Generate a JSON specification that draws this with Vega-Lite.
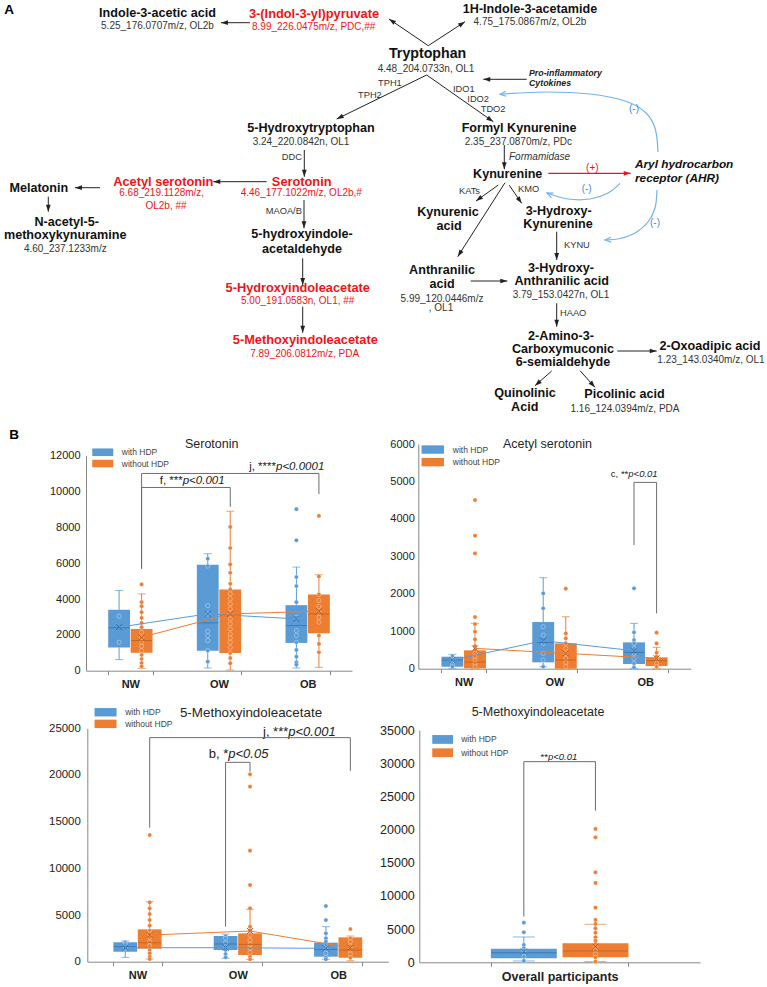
{
"$schema":"https://vega.github.io/schema/vega-lite/v6.json",
"width":767,"height":987,"autosize":"none","padding":0,"background":"white",
"config":{"view":{"stroke":null},"font":"Liberation Sans","axis":{"grid":false,"labelFont":"Liberation Sans"},"legend":{"labelFont":"Liberation Sans"}},
"resolve":{"scale":{"x":"independent","y":"independent","xOffset":"independent","color":"independent"}},
"datasets":{
"boxes":[
{"panel":"TL","group":"NW","status":"with HDP","lo":620,"q1":1300,"med":2400,"q3":3400,"hi":4480,"mean":2430},
{"panel":"TL","group":"NW","status":"without HDP","lo":130,"q1":1000,"med":1680,"q3":2330,"hi":4290,"mean":1866},
{"panel":"TL","group":"OW","status":"with HDP","lo":150,"q1":1120,"med":2670,"q3":5915,"hi":6530,"mean":3172},
{"panel":"TL","group":"OW","status":"without HDP","lo":40,"q1":990,"med":3100,"q3":4534,"hi":8900,"mean":3172},
{"panel":"TL","group":"OB","status":"with HDP","lo":150,"q1":1550,"med":2520,"q3":3657,"hi":5785,"mean":2892},
{"panel":"TL","group":"OB","status":"without HDP","lo":190,"q1":2090,"med":3170,"q3":4254,"hi":5355,"mean":3321},
{"panel":"TR","group":"NW","status":"with HDP","lo":0,"q1":53,"med":231,"q3":320,"hi":383,"mean":230},
{"panel":"TR","group":"NW","status":"without HDP","lo":0,"q1":10,"med":178,"q3":490,"hi":1210,"mean":543},
{"panel":"TR","group":"OW","status":"with HDP","lo":53,"q1":169,"med":700,"q3":1246,"hi":2430,"mean":748},
{"panel":"TR","group":"OW","status":"without HDP","lo":0,"q1":0,"med":231,"q3":676,"hi":1388,"mean":409},
{"panel":"TR","group":"OB","status":"with HDP","lo":0,"q1":125,"med":436,"q3":703,"hi":1210,"mean":480},
{"panel":"TR","group":"OB","status":"without HDP","lo":0,"q1":71,"med":214,"q3":303,"hi":570,"mean":276},
{"panel":"BL","group":"NW","status":"with HDP","lo":464,"q1":1071,"med":1607,"q3":2071,"hi":2214,"mean":1500},
{"panel":"BL","group":"NW","status":"without HDP","lo":286,"q1":1393,"med":2035,"q3":3464,"hi":6428,"mean":2857},
{"panel":"BL","group":"OW","status":"with HDP","lo":357,"q1":1250,"med":1900,"q3":2750,"hi":2950,"mean":1500},
{"panel":"BL","group":"OW","status":"without HDP","lo":250,"q1":714,"med":1857,"q3":3035,"hi":5607,"mean":3285},
{"panel":"BL","group":"OB","status":"with HDP","lo":250,"q1":536,"med":1321,"q3":2035,"hi":3750,"mean":1430},
{"panel":"BL","group":"OB","status":"without HDP","lo":100,"q1":428,"med":1250,"q3":2607,"hi":2750,"mean":1500},
{"panel":"BR","group":"Overall participants","status":"with HDP","lo":200,"q1":603,"med":1456,"q3":2059,"hi":3817,"mean":1607},
{"panel":"BR","group":"Overall participants","status":"without HDP","lo":100,"q1":753,"med":1707,"q3":2862,"hi":5725,"mean":2360}
],
"points":[
{"panel":"TL","group":"NW","status":"with HDP","value":3040},{"panel":"TL","group":"NW","status":"with HDP","value":1585},
{"panel":"TL","group":"NW","status":"without HDP","value":4814},{"panel":"TL","group":"NW","status":"without HDP","value":3825},{"panel":"TL","group":"NW","status":"without HDP","value":3600},{"panel":"TL","group":"NW","status":"without HDP","value":3265},{"panel":"TL","group":"NW","status":"without HDP","value":2948},{"panel":"TL","group":"NW","status":"without HDP","value":2668},{"panel":"TL","group":"NW","status":"without HDP","value":2426},{"panel":"TL","group":"NW","status":"without HDP","value":2146},{"panel":"TL","group":"NW","status":"without HDP","value":1866},{"panel":"TL","group":"NW","status":"without HDP","value":1586},{"panel":"TL","group":"NW","status":"without HDP","value":1362},{"panel":"TL","group":"NW","status":"without HDP","value":1120},{"panel":"TL","group":"NW","status":"without HDP","value":877},{"panel":"TL","group":"NW","status":"without HDP","value":653},{"panel":"TL","group":"NW","status":"without HDP","value":429},{"panel":"TL","group":"NW","status":"without HDP","value":243},
{"panel":"TL","group":"OW","status":"with HDP","value":6251},{"panel":"TL","group":"OW","status":"with HDP","value":5841},{"panel":"TL","group":"OW","status":"with HDP","value":3639},{"panel":"TL","group":"OW","status":"with HDP","value":3172},{"panel":"TL","group":"OW","status":"with HDP","value":2202},{"panel":"TL","group":"OW","status":"with HDP","value":1959},{"panel":"TL","group":"OW","status":"with HDP","value":1679},{"panel":"TL","group":"OW","status":"with HDP","value":1120},{"panel":"TL","group":"OW","status":"with HDP","value":504},
{"panel":"TL","group":"OW","status":"without HDP","value":8024},{"panel":"TL","group":"OW","status":"without HDP","value":6848},{"panel":"TL","group":"OW","status":"without HDP","value":5934},{"panel":"TL","group":"OW","status":"without HDP","value":5467},{"panel":"TL","group":"OW","status":"without HDP","value":4852},{"panel":"TL","group":"OW","status":"without HDP","value":4534},{"panel":"TL","group":"OW","status":"without HDP","value":4292},{"panel":"TL","group":"OW","status":"without HDP","value":4012},{"panel":"TL","group":"OW","status":"without HDP","value":3732},{"panel":"TL","group":"OW","status":"without HDP","value":3452},{"panel":"TL","group":"OW","status":"without HDP","value":3172},{"panel":"TL","group":"OW","status":"without HDP","value":2892},{"panel":"TL","group":"OW","status":"without HDP","value":2612},{"panel":"TL","group":"OW","status":"without HDP","value":2332},{"panel":"TL","group":"OW","status":"without HDP","value":2053},{"panel":"TL","group":"OW","status":"without HDP","value":1829},{"panel":"TL","group":"OW","status":"without HDP","value":1586},{"panel":"TL","group":"OW","status":"without HDP","value":1306},{"panel":"TL","group":"OW","status":"without HDP","value":989},{"panel":"TL","group":"OW","status":"without HDP","value":709},{"panel":"TL","group":"OW","status":"without HDP","value":411},
{"panel":"TL","group":"OB","status":"with HDP","value":9013},{"panel":"TL","group":"OB","status":"with HDP","value":7277},{"panel":"TL","group":"OB","status":"with HDP","value":5225},{"panel":"TL","group":"OB","status":"with HDP","value":4721},{"panel":"TL","group":"OB","status":"with HDP","value":3825},{"panel":"TL","group":"OB","status":"with HDP","value":2986},{"panel":"TL","group":"OB","status":"with HDP","value":2239},{"panel":"TL","group":"OB","status":"with HDP","value":1959},{"panel":"TL","group":"OB","status":"with HDP","value":1586},{"panel":"TL","group":"OB","status":"with HDP","value":1157},{"panel":"TL","group":"OB","status":"with HDP","value":784},{"panel":"TL","group":"OB","status":"with HDP","value":467},{"panel":"TL","group":"OB","status":"with HDP","value":336},
{"panel":"TL","group":"OB","status":"without HDP","value":8640},{"panel":"TL","group":"OB","status":"without HDP","value":5262},{"panel":"TL","group":"OB","status":"without HDP","value":4254},{"panel":"TL","group":"OB","status":"without HDP","value":3919},{"panel":"TL","group":"OB","status":"without HDP","value":3583},{"panel":"TL","group":"OB","status":"without HDP","value":3265},{"panel":"TL","group":"OB","status":"without HDP","value":2986},{"panel":"TL","group":"OB","status":"without HDP","value":2706},{"panel":"TL","group":"OB","status":"without HDP","value":1959},{"panel":"TL","group":"OB","status":"without HDP","value":1493},{"panel":"TL","group":"OB","status":"without HDP","value":1026},
{"panel":"TR","group":"NW","status":"with HDP","value":338},{"panel":"TR","group":"NW","status":"with HDP","value":231},{"panel":"TR","group":"NW","status":"with HDP","value":125},{"panel":"TR","group":"NW","status":"with HDP","value":53},
{"panel":"TR","group":"NW","status":"without HDP","value":4503},{"panel":"TR","group":"NW","status":"without HDP","value":3551},{"panel":"TR","group":"NW","status":"without HDP","value":3079},{"panel":"TR","group":"NW","status":"without HDP","value":1380},{"panel":"TR","group":"NW","status":"without HDP","value":1193},{"panel":"TR","group":"NW","status":"without HDP","value":988},{"panel":"TR","group":"NW","status":"without HDP","value":783},{"panel":"TR","group":"NW","status":"without HDP","value":605},{"panel":"TR","group":"NW","status":"without HDP","value":498},{"panel":"TR","group":"NW","status":"without HDP","value":409},{"panel":"TR","group":"NW","status":"without HDP","value":320},{"panel":"TR","group":"NW","status":"without HDP","value":231},{"panel":"TR","group":"NW","status":"without HDP","value":142},{"panel":"TR","group":"NW","status":"without HDP","value":53},
{"panel":"TR","group":"OW","status":"with HDP","value":2011},{"panel":"TR","group":"OW","status":"with HDP","value":1611},{"panel":"TR","group":"OW","status":"with HDP","value":1121},{"panel":"TR","group":"OW","status":"with HDP","value":899},{"panel":"TR","group":"OW","status":"with HDP","value":676},{"panel":"TR","group":"OW","status":"with HDP","value":409},{"panel":"TR","group":"OW","status":"with HDP","value":231},{"panel":"TR","group":"OW","status":"with HDP","value":53},
{"panel":"TR","group":"OW","status":"without HDP","value":2136},{"panel":"TR","group":"OW","status":"without HDP","value":943},{"panel":"TR","group":"OW","status":"without HDP","value":810},{"panel":"TR","group":"OW","status":"without HDP","value":676},{"panel":"TR","group":"OW","status":"without HDP","value":543},{"panel":"TR","group":"OW","status":"without HDP","value":409},{"panel":"TR","group":"OW","status":"without HDP","value":276},{"panel":"TR","group":"OW","status":"without HDP","value":160},{"panel":"TR","group":"OW","status":"without HDP","value":53},
{"panel":"TR","group":"OB","status":"with HDP","value":2145},{"panel":"TR","group":"OB","status":"with HDP","value":970},{"panel":"TR","group":"OB","status":"with HDP","value":765},{"panel":"TR","group":"OB","status":"with HDP","value":676},{"panel":"TR","group":"OB","status":"with HDP","value":543},{"panel":"TR","group":"OB","status":"with HDP","value":409},{"panel":"TR","group":"OB","status":"with HDP","value":276},{"panel":"TR","group":"OB","status":"with HDP","value":142},{"panel":"TR","group":"OB","status":"with HDP","value":36},
{"panel":"TR","group":"OB","status":"without HDP","value":961},{"panel":"TR","group":"OB","status":"without HDP","value":676},{"panel":"TR","group":"OB","status":"without HDP","value":427},{"panel":"TR","group":"OB","status":"without HDP","value":320},{"panel":"TR","group":"OB","status":"without HDP","value":231},{"panel":"TR","group":"OB","status":"without HDP","value":142},{"panel":"TR","group":"OB","status":"without HDP","value":53},
{"panel":"BL","group":"NW","status":"with HDP","value":2071},{"panel":"BL","group":"NW","status":"with HDP","value":1857},{"panel":"BL","group":"NW","status":"with HDP","value":1428},
{"panel":"BL","group":"NW","status":"without HDP","value":13570},{"panel":"BL","group":"NW","status":"without HDP","value":6357},{"panel":"BL","group":"NW","status":"without HDP","value":5714},{"panel":"BL","group":"NW","status":"without HDP","value":5107},{"panel":"BL","group":"NW","status":"without HDP","value":4464},{"panel":"BL","group":"NW","status":"without HDP","value":3857},{"panel":"BL","group":"NW","status":"without HDP","value":3321},{"panel":"BL","group":"NW","status":"without HDP","value":2964},{"panel":"BL","group":"NW","status":"without HDP","value":2607},{"panel":"BL","group":"NW","status":"without HDP","value":2143},{"panel":"BL","group":"NW","status":"without HDP","value":1678},{"panel":"BL","group":"NW","status":"without HDP","value":1250},{"panel":"BL","group":"NW","status":"without HDP","value":893},{"panel":"BL","group":"NW","status":"without HDP","value":536},{"panel":"BL","group":"NW","status":"without HDP","value":286},
{"panel":"BL","group":"OW","status":"with HDP","value":2750},{"panel":"BL","group":"OW","status":"with HDP","value":2500},{"panel":"BL","group":"OW","status":"with HDP","value":2035},{"panel":"BL","group":"OW","status":"with HDP","value":1607},{"panel":"BL","group":"OW","status":"with HDP","value":1250},{"panel":"BL","group":"OW","status":"with HDP","value":821},{"panel":"BL","group":"OW","status":"with HDP","value":464},
{"panel":"BL","group":"OW","status":"without HDP","value":20070},{"panel":"BL","group":"OW","status":"without HDP","value":18750},{"panel":"BL","group":"OW","status":"without HDP","value":11890},{"panel":"BL","group":"OW","status":"without HDP","value":8214},{"panel":"BL","group":"OW","status":"without HDP","value":5714},{"panel":"BL","group":"OW","status":"without HDP","value":3750},{"panel":"BL","group":"OW","status":"without HDP","value":3321},{"panel":"BL","group":"OW","status":"without HDP","value":2857},{"panel":"BL","group":"OW","status":"without HDP","value":2321},{"panel":"BL","group":"OW","status":"without HDP","value":1857},{"panel":"BL","group":"OW","status":"without HDP","value":1428},{"panel":"BL","group":"OW","status":"without HDP","value":1000},{"panel":"BL","group":"OW","status":"without HDP","value":536},{"panel":"BL","group":"OW","status":"without HDP","value":250},
{"panel":"BL","group":"OB","status":"with HDP","value":5964},{"panel":"BL","group":"OB","status":"with HDP","value":4464},{"panel":"BL","group":"OB","status":"with HDP","value":3035},{"panel":"BL","group":"OB","status":"with HDP","value":2500},{"panel":"BL","group":"OB","status":"with HDP","value":2143},{"panel":"BL","group":"OB","status":"with HDP","value":1786},{"panel":"BL","group":"OB","status":"with HDP","value":1321},{"panel":"BL","group":"OB","status":"with HDP","value":893},{"panel":"BL","group":"OB","status":"with HDP","value":464},{"panel":"BL","group":"OB","status":"with HDP","value":250},
{"panel":"BL","group":"OB","status":"without HDP","value":3500},{"panel":"BL","group":"OB","status":"without HDP","value":2500},{"panel":"BL","group":"OB","status":"without HDP","value":2143},{"panel":"BL","group":"OB","status":"without HDP","value":1678},{"panel":"BL","group":"OB","status":"without HDP","value":1250},{"panel":"BL","group":"OB","status":"without HDP","value":821},{"panel":"BL","group":"OB","status":"without HDP","value":428},
{"panel":"BR","group":"Overall participants","status":"with HDP","value":5976},{"panel":"BR","group":"Overall participants","status":"with HDP","value":4520},{"panel":"BR","group":"Overall participants","status":"with HDP","value":2611},{"panel":"BR","group":"Overall participants","status":"with HDP","value":2109},{"panel":"BR","group":"Overall participants","status":"with HDP","value":1758},{"panel":"BR","group":"Overall participants","status":"with HDP","value":1356},{"panel":"BR","group":"Overall participants","status":"with HDP","value":854},{"panel":"BR","group":"Overall participants","status":"with HDP","value":200},
{"panel":"BR","group":"Overall participants","status":"without HDP","value":20088},{"panel":"BR","group":"Overall participants","status":"without HDP","value":18832},{"panel":"BR","group":"Overall participants","status":"without HDP","value":13559},{"panel":"BR","group":"Overall participants","status":"without HDP","value":11952},{"panel":"BR","group":"Overall participants","status":"without HDP","value":8236},{"panel":"BR","group":"Overall participants","status":"without HDP","value":6378},{"panel":"BR","group":"Overall participants","status":"without HDP","value":5775},{"panel":"BR","group":"Overall participants","status":"without HDP","value":5122},{"panel":"BR","group":"Overall participants","status":"without HDP","value":4470},{"panel":"BR","group":"Overall participants","status":"without HDP","value":3766},{"panel":"BR","group":"Overall participants","status":"without HDP","value":3264},{"panel":"BR","group":"Overall participants","status":"without HDP","value":2762},{"panel":"BR","group":"Overall participants","status":"without HDP","value":2260},{"panel":"BR","group":"Overall participants","status":"without HDP","value":1758},{"panel":"BR","group":"Overall participants","status":"without HDP","value":1256},{"panel":"BR","group":"Overall participants","status":"without HDP","value":753},{"panel":"BR","group":"Overall participants","status":"without HDP","value":100}
],
"brackets":[
{"panel":"TL","id":"f","step":1,"group":"NW","status":"without HDP","value":5691},{"panel":"TL","id":"f","step":2,"group":"NW","status":"without HDP","value":10226},{"panel":"TL","id":"f","step":3,"group":"OW","status":"without HDP","value":10226},{"panel":"TL","id":"f","step":4,"group":"OW","status":"without HDP","value":9143},
{"panel":"TL","id":"j","step":1,"group":"NW","status":"without HDP","value":5691},{"panel":"TL","id":"j","step":2,"group":"NW","status":"without HDP","value":11009},{"panel":"TL","id":"j","step":3,"group":"OB","status":"without HDP","value":11009},{"panel":"TL","id":"j","step":4,"group":"OB","status":"without HDP","value":9852},
{"panel":"TR","id":"c","step":1,"group":"OB","status":"with HDP","value":3302},{"panel":"TR","id":"c","step":2,"group":"OB","status":"with HDP","value":4975},{"panel":"TR","id":"c","step":3,"group":"OB","status":"without HDP","value":4975},{"panel":"TR","id":"c","step":4,"group":"OB","status":"without HDP","value":1477},
{"panel":"BL","id":"j","step":1,"group":"NW","status":"without HDP","value":14357},{"panel":"BL","id":"j","step":2,"group":"NW","status":"without HDP","value":24000},{"panel":"BL","id":"j","step":3,"group":"OB","status":"without HDP","value":24000},{"panel":"BL","id":"j","step":4,"group":"OB","status":"without HDP","value":20430},
{"panel":"BL","id":"b","step":1,"group":"OW","status":"with HDP","value":3750},{"panel":"BL","id":"b","step":2,"group":"OW","status":"with HDP","value":21355},{"panel":"BL","id":"b","step":3,"group":"OW","status":"without HDP","value":21355},{"panel":"BL","id":"b","step":4,"group":"OW","status":"without HDP","value":20355},
{"panel":"BR","id":"o","step":1,"group":"Overall participants","status":"with HDP","value":6880},{"panel":"BR","id":"o","step":2,"group":"Overall participants","status":"with HDP","value":30232},{"panel":"BR","id":"o","step":3,"group":"Overall participants","status":"without HDP","value":30232},{"panel":"BR","id":"o","step":4,"group":"Overall participants","status":"without HDP","value":22850}
],
"nodes_bold":[
{"text":"Indole-3-acetic acid","x":157.5,"y":13.3},{"text":"1H-Indole-3-acetamide","x":530,"y":8.5},{"text":"5-Hydroxytryptophan","x":311,"y":128.3},{"text":"Formyl Kynurenine","x":519,"y":128.3},{"text":"Kynurenine","x":507.7,"y":174.3},{"text":"Melatonin","x":38.8,"y":187.7},{"text":"N-acetyl-5-","x":66.7,"y":221.7},{"text":"methoxykynuramine","x":65.2,"y":235},{"text":"5-hydroxyindole-","x":302,"y":234.3},{"text":"acetaldehyde","x":302,"y":249.3},{"text":"Kynurenic","x":448,"y":211.7},{"text":"acid","x":449,"y":226},{"text":"3-Hydroxy-","x":558.7,"y":210.7},{"text":"Kynurenine","x":558,"y":224},{"text":"Anthranilic","x":442,"y":270},{"text":"acid","x":442,"y":284},{"text":"3-Hydroxy-","x":561,"y":268},{"text":"Anthranilic acid","x":561.7,"y":281},{"text":"2-Amino-3-","x":561,"y":335.7},{"text":"Carboxymuconic","x":563,"y":349},{"text":"6-semialdehyde","x":563,"y":362.3},{"text":"2-Oxoadipic acid","x":710,"y":345.7},{"text":"Quinolinic","x":525,"y":393.3},{"text":"Acid","x":524.7,"y":406.7},{"text":"Picolinic acid","x":624.5,"y":394.3}
],
"node_main":[{"text":"Tryptophan","x":427.6,"y":54.3}],
"nodes_red":[{"text":"3-(Indol-3-yl)pyruvate","x":314,"y":14.3},{"text":"Serotonin","x":301.7,"y":181.7},{"text":"Acetyl serotonin","x":163.3,"y":181.7},{"text":"5-Hydroxyindoleacetate","x":297.7,"y":288.3},{"text":"5-Methoxyindoleacetate","x":305.3,"y":340}],
"subs":[{"text":"5.25_176.0707m/z,  OL2b","x":157.5,"y":25.7},{"text":"4.75_175.0867m/z,  OL2b","x":530,"y":21.7},{"text":"4.48_204.0733n,  OL1","x":426,"y":69.3},{"text":"2.35_237.0870m/z,  PDc","x":518.4,"y":141.7},{"text":"3.24_220.0842n,  OL1","x":301,"y":141.7},{"text":"4.60_237.1233m/z","x":65.3,"y":249.3},{"text":"5.99_120.0446m/z","x":442,"y":299},{"text":", OL1","x":441,"y":308.3},{"text":"3.79_153.0427n,  OL1","x":561,"y":295},{"text":"1.23_143.0340m/z,  OL1","x":711,"y":360},{"text":"1.16_124.0394m/z,  PDA","x":625,"y":409}],
"subs_red":[{"text":"8.99_226.0475m/z,  PDC,##","x":313.7,"y":26.7},{"text":"4.46_177.1022m/z,  OL2b,#","x":301.3,"y":193.3},{"text":"6.68_219.1128m/z,","x":161.7,"y":193.3},{"text":"OL2b, ##","x":166,"y":206},{"text":"5.00_191.0583n,  OL1, ##","x":297.7,"y":301},{"text":"7.89_206.0812m/z,  PDA","x":304.7,"y":354}],
"enzymes":[{"text":"TPH1","x":378,"y":83},{"text":"TPH2","x":358,"y":95},{"text":"IDO1","x":453,"y":89.3},{"text":"IDO2","x":467.3,"y":99.3},{"text":"TDO2","x":480.7,"y":109.3},{"text":"DDC","x":281.7,"y":156.7},{"text":"MAOA/B","x":265.7,"y":210.7},{"text":"KATs","x":459,"y":191},{"text":"KMO","x":518,"y":189.3},{"text":"KYNU","x":564,"y":245},{"text":"HAAO","x":560,"y":313.3}],
"italic_enz":[{"text":"Formamidase","x":509,"y":156.7}],
"bi_small":[{"text":"Pro-inflammatory","x":529,"y":72.7},{"text":"Cytokines","x":529,"y":83.3}],
"bi_big":[{"text":"Aryl hydrocarbon","x":635,"y":164.3},{"text":"receptor (AHR)","x":635,"y":178.3}],
"sign_red":[{"text":"(+)","x":592.3,"y":167.7}],
"sign_blue":[{"text":"(-)","x":586.7,"y":189.3},{"text":"(-)","x":634,"y":109.3},{"text":"(-)","x":655,"y":223.3}],
"letters":[{"text":"A","x":9,"y":10},{"text":"B","x":14,"y":435}],
"titles":[{"text":"Serotonin","x":211.7,"y":444},{"text":"Acetyl serotonin","x":547.5,"y":444},{"text":"5-Methoxyindoleacetate","x":538,"y":711.7}],
"title_bl":[{"text":"5-Methoxyindoleacetate","x":251,"y":712.7}],
"sig_tl_reg":[{"text":"f, ***","x":182.7,"y":480.7},{"text":"j, ****","x":276,"y":466.7}],
"sig_tl_it":[{"text":"p<0.001","x":182.7,"y":480.7},{"text":"p<0.0001","x":276,"y":466.7}],
"sig_bl_reg":[{"text":"j, ***","x":288.3,"y":731.7},{"text":"b, *","x":228.3,"y":754.3}],
"sig_bl_it":[{"text":"p<0.001","x":288.3,"y":731.7},{"text":"p<0.05","x":228.3,"y":754.3}],
"sig_sm_reg":[{"text":"c, **","x":628.3,"y":474.3},{"text":"**","x":548,"y":756.7}],
"sig_sm_it":[{"text":"p<0.01","x":628.3,"y":474.3},{"text":"p<0.01","x":548,"y":756.7}],
"arrows":[
{"x":250,"y":22.7,"x2":221,"y2":22.7},{"x":428.3,"y":45.7,"x2":389,"y2":19},{"x":428.3,"y":45.7,"x2":465,"y2":21.7},{"x":426.7,"y":75,"x2":336.7,"y2":119},{"x":426.7,"y":75,"x2":493.3,"y2":121.7},{"x":526.7,"y":79.3,"x2":483.3,"y2":79.3},{"x":504.3,"y":145,"x2":504.3,"y2":169.3},{"x":498.3,"y":185,"x2":476,"y2":201},{"x":509.3,"y":185.3,"x2":521.7,"y2":203.3},{"x":505,"y":182.7,"x2":457.7,"y2":256.7},{"x":556.7,"y":231.7,"x2":556.7,"y2":260},{"x":470.7,"y":281,"x2":507.3,"y2":281},{"x":556.7,"y":303.3,"x2":556.7,"y2":326.7},{"x":617.3,"y":351,"x2":656.7,"y2":351},{"x":551.7,"y":371,"x2":535,"y2":385.7},{"x":580,"y":370.7,"x2":595,"y2":387.3},{"x":304.3,"y":150,"x2":304.3,"y2":176.7},{"x":266.7,"y":181.7,"x2":213.3,"y2":181.7},{"x":100,"y":187.7,"x2":75,"y2":187.7},{"x":48.3,"y":196.7,"x2":48.3,"y2":211.7},{"x":304,"y":200,"x2":304,"y2":228.3},{"x":302.7,"y":258.3,"x2":302.7,"y2":285},{"x":302.7,"y":306.7,"x2":302.7,"y2":332.7}
],
"arrow_red":[{"x":548.3,"y":173.3,"x2":630.7,"y2":173.3}],
"curves":[
{"id":"c1","step":1,"x":658,"y":152},{"id":"c1","step":2,"x":655,"y":128},{"id":"c1","step":3,"x":645,"y":112},{"id":"c1","step":4,"x":625,"y":101},{"id":"c1","step":5,"x":590,"y":94},{"id":"c1","step":6,"x":545,"y":92},{"id":"c1","step":7,"x":500,"y":94.3},
{"id":"c2","step":1,"x":620,"y":183.3},{"id":"c2","step":2,"x":608,"y":193},{"id":"c2","step":3,"x":590,"y":199},{"id":"c2","step":4,"x":568,"y":199},{"id":"c2","step":5,"x":547,"y":193},
{"id":"c3","step":1,"x":657,"y":190},{"id":"c3","step":2,"x":655,"y":208},{"id":"c3","step":3,"x":648,"y":222},{"id":"c3","step":4,"x":635,"y":233},{"id":"c3","step":5,"x":620,"y":238.5},{"id":"c3","step":6,"x":605,"y":240}
],
"curveheads":[{"x":515,"y":93,"x2":500,"y2":94.3},{"x":556,"y":197,"x2":547,"y2":193},{"x":615,"y":239.5,"x2":605,"y2":240}]
},
"layer":[
{"layer":[
{"data":{"name":"arrows"},"mark":{"type":"rule","color":"#222","strokeWidth":1},"encoding":{"x":{"field":"x","type":"quantitative","scale":{"domain":[0,767],"range":[0,767],"nice":false,"zero":false},"axis":null},"y":{"field":"y","type":"quantitative","scale":{"domain":[0,987],"range":[0,987],"nice":false,"zero":false},"axis":null},"x2":{"field":"x2"},"y2":{"field":"y2"}}},
{"data":{"name":"arrows"},"transform":[{"calculate":"atan2(datum.x2-datum.x, datum.y-datum.y2)*180/PI","as":"ang"}],"mark":{"type":"point","shape":"M0,0L-0.75,2.2L0.75,2.2Z","filled":true,"color":"#222","size":40,"opacity":1},"encoding":{"x":{"field":"x2","type":"quantitative","axis":null},"y":{"field":"y2","type":"quantitative","axis":null},"angle":{"field":"ang","type":"quantitative","scale":null}}},
{"data":{"name":"arrow_red"},"mark":{"type":"rule","color":"#e8161b","strokeWidth":1.3},"encoding":{"x":{"field":"x","type":"quantitative","axis":null},"y":{"field":"y","type":"quantitative","axis":null},"x2":{"field":"x2"},"y2":{"field":"y2"}}},
{"data":{"name":"arrow_red"},"transform":[{"calculate":"atan2(datum.x2-datum.x, datum.y-datum.y2)*180/PI","as":"ang"}],"mark":{"type":"point","shape":"M0,0L-0.75,2.2L0.75,2.2Z","filled":true,"color":"#e8161b","size":40,"opacity":1},"encoding":{"x":{"field":"x2","type":"quantitative","axis":null},"y":{"field":"y2","type":"quantitative","axis":null},"angle":{"field":"ang","type":"quantitative","scale":null}}},
{"data":{"name":"curves"},"mark":{"type":"line","interpolate":"cardinal","color":"#74b3ea","strokeWidth":1.2},"encoding":{"x":{"field":"x","type":"quantitative","axis":null},"y":{"field":"y","type":"quantitative","axis":null},"detail":{"field":"id"},"order":{"field":"step","type":"quantitative"}}},
{"data":{"name":"curveheads"},"transform":[{"calculate":"atan2(datum.x2-datum.x, datum.y-datum.y2)*180/PI","as":"ang"}],"mark":{"type":"point","shape":"M-0.9,2.2L0,0L0.9,2.2","filled":false,"color":"#74b3ea","strokeWidth":1.2,"size":30,"opacity":1},"encoding":{"x":{"field":"x2","type":"quantitative","axis":null},"y":{"field":"y2","type":"quantitative","axis":null},"angle":{"field":"ang","type":"quantitative","scale":null}}},
{"data":{"name":"nodes_bold"},"mark":{"type":"text","fontSize":12.6,"fontWeight":"bold","color":"#111","align":"center","baseline":"middle"},"encoding":{"x":{"field":"x","type":"quantitative","axis":null},"y":{"field":"y","type":"quantitative","axis":null},"text":{"field":"text"}}},
{"data":{"name":"node_main"},"mark":{"type":"text","fontSize":14.2,"fontWeight":"bold","color":"#111","align":"center","baseline":"middle"},"encoding":{"x":{"field":"x","type":"quantitative","axis":null},"y":{"field":"y","type":"quantitative","axis":null},"text":{"field":"text"}}},
{"data":{"name":"nodes_red"},"mark":{"type":"text","fontSize":12.8,"fontWeight":"bold","color":"#f01414","align":"center","baseline":"middle"},"encoding":{"x":{"field":"x","type":"quantitative","axis":null},"y":{"field":"y","type":"quantitative","axis":null},"text":{"field":"text"}}},
{"data":{"name":"subs"},"mark":{"type":"text","fontSize":10,"color":"#333","align":"center","baseline":"middle"},"encoding":{"x":{"field":"x","type":"quantitative","axis":null},"y":{"field":"y","type":"quantitative","axis":null},"text":{"field":"text"}}},
{"data":{"name":"subs_red"},"mark":{"type":"text","fontSize":10,"color":"#f01414","align":"center","baseline":"middle"},"encoding":{"x":{"field":"x","type":"quantitative","axis":null},"y":{"field":"y","type":"quantitative","axis":null},"text":{"field":"text"}}},
{"data":{"name":"enzymes"},"mark":{"type":"text","fontSize":9.3,"color":"#333","align":"left","baseline":"middle"},"encoding":{"x":{"field":"x","type":"quantitative","axis":null},"y":{"field":"y","type":"quantitative","axis":null},"text":{"field":"text"}}},
{"data":{"name":"italic_enz"},"mark":{"type":"text","fontSize":10,"fontStyle":"italic","color":"#333","align":"left","baseline":"middle"},"encoding":{"x":{"field":"x","type":"quantitative","axis":null},"y":{"field":"y","type":"quantitative","axis":null},"text":{"field":"text"}}},
{"data":{"name":"bi_small"},"mark":{"type":"text","fontSize":8.8,"fontStyle":"italic","fontWeight":"bold","color":"#222","align":"left","baseline":"middle"},"encoding":{"x":{"field":"x","type":"quantitative","axis":null},"y":{"field":"y","type":"quantitative","axis":null},"text":{"field":"text"}}},
{"data":{"name":"bi_big"},"mark":{"type":"text","fontSize":11.8,"fontStyle":"italic","fontWeight":"bold","color":"#111","align":"left","baseline":"middle"},"encoding":{"x":{"field":"x","type":"quantitative","axis":null},"y":{"field":"y","type":"quantitative","axis":null},"text":{"field":"text"}}},
{"data":{"name":"sign_red"},"mark":{"type":"text","fontSize":10,"color":"#e8161b","align":"center","baseline":"middle"},"encoding":{"x":{"field":"x","type":"quantitative","axis":null},"y":{"field":"y","type":"quantitative","axis":null},"text":{"field":"text"}}},
{"data":{"name":"sign_blue"},"mark":{"type":"text","fontSize":10,"color":"#3d8fd6","align":"center","baseline":"middle"},"encoding":{"x":{"field":"x","type":"quantitative","axis":null},"y":{"field":"y","type":"quantitative","axis":null},"text":{"field":"text"}}},
{"data":{"name":"letters"},"mark":{"type":"text","fontSize":13.5,"fontWeight":"bold","color":"#000","align":"center","baseline":"middle"},"encoding":{"x":{"field":"x","type":"quantitative","axis":null},"y":{"field":"y","type":"quantitative","axis":null},"text":{"field":"text"}}},
{"data":{"name":"titles"},"mark":{"type":"text","fontSize":12.5,"color":"#262626","align":"center","baseline":"middle"},"encoding":{"x":{"field":"x","type":"quantitative","axis":null},"y":{"field":"y","type":"quantitative","axis":null},"text":{"field":"text"}}},
{"data":{"name":"title_bl"},"mark":{"type":"text","fontSize":13.4,"color":"#262626","align":"center","baseline":"middle"},"encoding":{"x":{"field":"x","type":"quantitative","axis":null},"y":{"field":"y","type":"quantitative","axis":null},"text":{"field":"text"}}},
{"data":{"name":"sig_tl_reg"},"mark":{"type":"text","fontSize":11.5,"color":"#222","align":"right","baseline":"middle"},"encoding":{"x":{"field":"x","type":"quantitative","axis":null},"y":{"field":"y","type":"quantitative","axis":null},"text":{"field":"text"}}},
{"data":{"name":"sig_tl_it"},"mark":{"type":"text","fontSize":11.5,"fontStyle":"italic","color":"#222","align":"left","baseline":"middle"},"encoding":{"x":{"field":"x","type":"quantitative","axis":null},"y":{"field":"y","type":"quantitative","axis":null},"text":{"field":"text"}}},
{"data":{"name":"sig_bl_reg"},"mark":{"type":"text","fontSize":13,"color":"#222","align":"right","baseline":"middle"},"encoding":{"x":{"field":"x","type":"quantitative","axis":null},"y":{"field":"y","type":"quantitative","axis":null},"text":{"field":"text"}}},
{"data":{"name":"sig_bl_it"},"mark":{"type":"text","fontSize":13,"fontStyle":"italic","color":"#222","align":"left","baseline":"middle"},"encoding":{"x":{"field":"x","type":"quantitative","axis":null},"y":{"field":"y","type":"quantitative","axis":null},"text":{"field":"text"}}},
{"data":{"name":"sig_sm_reg"},"mark":{"type":"text","fontSize":9.5,"color":"#222","align":"right","baseline":"middle"},"encoding":{"x":{"field":"x","type":"quantitative","axis":null},"y":{"field":"y","type":"quantitative","axis":null},"text":{"field":"text"}}},
{"data":{"name":"sig_sm_it"},"mark":{"type":"text","fontSize":9.5,"fontStyle":"italic","color":"#222","align":"left","baseline":"middle"},"encoding":{"x":{"field":"x","type":"quantitative","axis":null},"y":{"field":"y","type":"quantitative","axis":null},"text":{"field":"text"}}}
]},
{"layer":[
{"data":{"name":"boxes"},"transform":[{"filter":"datum.panel==='TL'"}],"mark":{"type":"bar"},"encoding":{
"x":{"field":"group","type":"nominal","sort":["NW","OW","OB"],"scale":{"domain":["NW","OW","OB"],"range":[86,352],"paddingInner":0.5,"paddingOuter":0.25},"axis":{"orient":"bottom","offset":-316.3,"title":null,"labelAngle":0,"labelFontWeight":"bold","labelFontSize":11,"labelColor":"#222","labelPadding":4,"tickBand":"extent","tickSize":4,"tickColor":"#888","domainColor":"#888"}},
"xOffset":{"field":"status","type":"nominal","scale":{"domain":["with HDP","without HDP"],"paddingInner":0.03,"paddingOuter":0}},
"y":{"field":"q1","type":"quantitative","scale":{"domain":[0,12000],"range":[670.7,455.7],"nice":false},"axis":{"orient":"left","offset":-86,"title":null,"values":[0,2000,4000,6000,8000,10000,12000],"format":"d","labelFontSize":11,"labelColor":"#222","tickSize":0,"labelPadding":6,"domainColor":"#888"}},
"y2":{"field":"q3"},
"color":{"field":"status","type":"nominal","scale":{"domain":["with HDP","without HDP"],"range":["#5b9bd5","#ed7d31"]},"legend":{"orient":"none","legendX":98.5,"legendY":448,"title":null,"symbolType":"M-5.25,-1.9H5.25V1.9H-5.25Z","symbolSize":16,"symbolStrokeWidth":0,"labelFontSize":8.5,"labelColor":"#444","labelOffset":14.8,"rowPadding":2.3,"padding":0}}}},
{"data":{"name":"boxes"},"transform":[{"filter":"datum.panel==='TL'"}],"mark":{"type":"rule","strokeWidth":1},"encoding":{"x":{"field":"group","type":"nominal","sort":["NW","OW","OB"]},"xOffset":{"field":"status","type":"nominal"},"y":{"field":"lo","type":"quantitative"},"y2":{"field":"q1"},"color":{"field":"status","type":"nominal","legend":null}}},
{"data":{"name":"boxes"},"transform":[{"filter":"datum.panel==='TL'"}],"mark":{"type":"rule","strokeWidth":1},"encoding":{"x":{"field":"group","type":"nominal","sort":["NW","OW","OB"]},"xOffset":{"field":"status","type":"nominal"},"y":{"field":"q3","type":"quantitative"},"y2":{"field":"hi"},"color":{"field":"status","type":"nominal","legend":null}}},
{"data":{"name":"boxes"},"transform":[{"filter":"datum.panel==='TL'"},{"fold":["lo","hi"],"as":["k","v"]}],"mark":{"type":"tick","size":8,"thickness":1},"encoding":{"x":{"field":"group","type":"nominal","sort":["NW","OW","OB"]},"xOffset":{"field":"status","type":"nominal"},"y":{"field":"v","type":"quantitative"},"color":{"field":"status","type":"nominal","legend":null}}},
{"data":{"name":"points"},"transform":[{"filter":"datum.panel==='TL'"}],"mark":{"type":"circle","size":18,"opacity":1,"stroke":"#ffffff","strokeWidth":0.6,"strokeOpacity":0.55},"encoding":{"x":{"field":"group","type":"nominal","sort":["NW","OW","OB"]},"xOffset":{"field":"status","type":"nominal"},"y":{"field":"value","type":"quantitative"},"color":{"field":"status","type":"nominal","legend":null}}},
{"data":{"name":"boxes"},"transform":[{"filter":"datum.panel==='TL'"}],"mark":{"type":"tick","size":21,"thickness":1},"encoding":{"x":{"field":"group","type":"nominal","sort":["NW","OW","OB"]},"xOffset":{"field":"status","type":"nominal"},"y":{"field":"med","type":"quantitative"},"fill":{"field":"status","type":"nominal","scale":{"domain":["with HDP","without HDP"],"range":["#2f6eaa","#b85a1c"]},"legend":null}}},
{"data":{"name":"boxes"},"transform":[{"filter":"datum.panel==='TL'"}],"mark":{"type":"point","shape":"M-1,-1L1,1M-1,1L1,-1","size":36,"filled":false,"strokeWidth":1,"opacity":1},"encoding":{"x":{"field":"group","type":"nominal","sort":["NW","OW","OB"]},"xOffset":{"field":"status","type":"nominal"},"y":{"field":"mean","type":"quantitative"},"stroke":{"field":"status","type":"nominal","scale":{"domain":["with HDP","without HDP"],"range":["#2f6eaa","#b85a1c"]},"legend":null}}},
{"data":{"name":"boxes"},"transform":[{"filter":"datum.panel==='TL'"}],"mark":{"type":"line","strokeWidth":1},"encoding":{"x":{"field":"group","type":"nominal","sort":["NW","OW","OB"]},"xOffset":{"field":"status","type":"nominal"},"y":{"field":"mean","type":"quantitative"},"color":{"field":"status","type":"nominal","legend":null}}},
{"data":{"name":"brackets"},"transform":[{"filter":"datum.panel==='TL'"}],"mark":{"type":"line","color":"#6e6e6e","strokeWidth":1},"encoding":{"x":{"field":"group","type":"nominal","sort":["NW","OW","OB"]},"xOffset":{"field":"status","type":"nominal"},"y":{"field":"value","type":"quantitative"},"detail":{"field":"id"},"order":{"field":"step","type":"quantitative"}}}
]},
{"layer":[
{"data":{"name":"boxes"},"transform":[{"filter":"datum.panel==='TR'"}],"mark":{"type":"bar"},"encoding":{
"x":{"field":"group","type":"nominal","sort":["NW","OW","OB"],"scale":{"domain":["NW","OW","OB"],"range":[418.3,690.7],"paddingInner":0.51,"paddingOuter":0.255},"axis":{"orient":"bottom","offset":-318.3,"title":null,"labelAngle":0,"labelFontWeight":"bold","labelFontSize":11,"labelColor":"#222","labelPadding":4,"tickBand":"extent","tickSize":4,"tickColor":"#888","domainColor":"#888"}},
"xOffset":{"field":"status","type":"nominal","scale":{"domain":["with HDP","without HDP"],"paddingInner":0.03,"paddingOuter":0}},
"y":{"field":"q1","type":"quantitative","scale":{"domain":[0,6000],"range":[668.7,444],"nice":false},"axis":{"orient":"left","offset":-418.3,"title":null,"values":[0,1000,2000,3000,4000,5000,6000],"format":"d","labelFontSize":11,"labelColor":"#222","tickSize":0,"labelPadding":4,"domainColor":"#888"}},
"y2":{"field":"q3"},
"color":{"field":"status","type":"nominal","scale":{"domain":["with HDP","without HDP"],"range":["#5b9bd5","#ed7d31"]},"legend":{"orient":"none","legendX":428.5,"legendY":445.3,"title":null,"symbolType":"M-5.6,-2.1H5.6V2.1H-5.6Z","symbolSize":16,"symbolStrokeWidth":0,"labelFontSize":8.5,"labelColor":"#444","labelOffset":15.8,"rowPadding":3.6,"padding":0}}}},
{"data":{"name":"boxes"},"transform":[{"filter":"datum.panel==='TR'"}],"mark":{"type":"rule","strokeWidth":1},"encoding":{"x":{"field":"group","type":"nominal","sort":["NW","OW","OB"]},"xOffset":{"field":"status","type":"nominal"},"y":{"field":"lo","type":"quantitative"},"y2":{"field":"q1"},"color":{"field":"status","type":"nominal","legend":null}}},
{"data":{"name":"boxes"},"transform":[{"filter":"datum.panel==='TR'"}],"mark":{"type":"rule","strokeWidth":1},"encoding":{"x":{"field":"group","type":"nominal","sort":["NW","OW","OB"]},"xOffset":{"field":"status","type":"nominal"},"y":{"field":"q3","type":"quantitative"},"y2":{"field":"hi"},"color":{"field":"status","type":"nominal","legend":null}}},
{"data":{"name":"boxes"},"transform":[{"filter":"datum.panel==='TR'"},{"fold":["lo","hi"],"as":["k","v"]}],"mark":{"type":"tick","size":8,"thickness":1},"encoding":{"x":{"field":"group","type":"nominal","sort":["NW","OW","OB"]},"xOffset":{"field":"status","type":"nominal"},"y":{"field":"v","type":"quantitative"},"color":{"field":"status","type":"nominal","legend":null}}},
{"data":{"name":"points"},"transform":[{"filter":"datum.panel==='TR'"}],"mark":{"type":"circle","size":18,"opacity":1,"stroke":"#ffffff","strokeWidth":0.6,"strokeOpacity":0.55},"encoding":{"x":{"field":"group","type":"nominal","sort":["NW","OW","OB"]},"xOffset":{"field":"status","type":"nominal"},"y":{"field":"value","type":"quantitative"},"color":{"field":"status","type":"nominal","legend":null}}},
{"data":{"name":"boxes"},"transform":[{"filter":"datum.panel==='TR'"}],"mark":{"type":"tick","size":21,"thickness":1},"encoding":{"x":{"field":"group","type":"nominal","sort":["NW","OW","OB"]},"xOffset":{"field":"status","type":"nominal"},"y":{"field":"med","type":"quantitative"},"fill":{"field":"status","type":"nominal","scale":{"domain":["with HDP","without HDP"],"range":["#2f6eaa","#b85a1c"]},"legend":null}}},
{"data":{"name":"boxes"},"transform":[{"filter":"datum.panel==='TR'"}],"mark":{"type":"point","shape":"M-1,-1L1,1M-1,1L1,-1","size":36,"filled":false,"strokeWidth":1,"opacity":1},"encoding":{"x":{"field":"group","type":"nominal","sort":["NW","OW","OB"]},"xOffset":{"field":"status","type":"nominal"},"y":{"field":"mean","type":"quantitative"},"stroke":{"field":"status","type":"nominal","scale":{"domain":["with HDP","without HDP"],"range":["#2f6eaa","#b85a1c"]},"legend":null}}},
{"data":{"name":"boxes"},"transform":[{"filter":"datum.panel==='TR'"}],"mark":{"type":"line","strokeWidth":1},"encoding":{"x":{"field":"group","type":"nominal","sort":["NW","OW","OB"]},"xOffset":{"field":"status","type":"nominal"},"y":{"field":"mean","type":"quantitative"},"color":{"field":"status","type":"nominal","legend":null}}},
{"data":{"name":"brackets"},"transform":[{"filter":"datum.panel==='TR'"}],"mark":{"type":"line","color":"#6e6e6e","strokeWidth":1},"encoding":{"x":{"field":"group","type":"nominal","sort":["NW","OW","OB"]},"xOffset":{"field":"status","type":"nominal"},"y":{"field":"value","type":"quantitative"},"detail":{"field":"id"},"order":{"field":"step","type":"quantitative"}}}
]},
{"layer":[
{"data":{"name":"boxes"},"transform":[{"filter":"datum.panel==='BL'"}],"mark":{"type":"bar"},"encoding":{
"x":{"field":"group","type":"nominal","sort":["NW","OW","OB"],"scale":{"domain":["NW","OW","OB"],"range":[87.3,388.3],"paddingInner":0.52,"paddingOuter":0.26},"axis":{"orient":"bottom","offset":-25.3,"title":null,"labelAngle":0,"labelFontWeight":"bold","labelFontSize":11,"labelColor":"#222","labelPadding":4,"tickBand":"extent","tickSize":4,"tickColor":"#888","domainColor":"#888"}},
"xOffset":{"field":"status","type":"nominal","scale":{"domain":["with HDP","without HDP"],"paddingInner":0.03,"paddingOuter":0}},
"y":{"field":"q1","type":"quantitative","scale":{"domain":[0,25000],"range":[961.7,728.3],"nice":false},"axis":{"orient":"left","offset":-87.3,"title":null,"values":[0,5000,10000,15000,20000,25000],"format":"d","labelFontSize":11.4,"labelColor":"#222","tickSize":0,"labelPadding":7,"domainColor":"#888"}},
"y2":{"field":"q3"},
"color":{"field":"status","type":"nominal","scale":{"domain":["with HDP","without HDP"],"range":["#5b9bd5","#ed7d31"]},"legend":{"orient":"none","legendX":101.3,"legendY":708,"title":null,"symbolType":"M-5.5,-2.1H5.5V2.1H-5.5Z","symbolSize":16,"symbolStrokeWidth":0,"labelFontSize":8.5,"labelColor":"#444","labelOffset":15.4,"rowPadding":2.6,"padding":0}}}},
{"data":{"name":"boxes"},"transform":[{"filter":"datum.panel==='BL'"}],"mark":{"type":"rule","strokeWidth":1},"encoding":{"x":{"field":"group","type":"nominal","sort":["NW","OW","OB"]},"xOffset":{"field":"status","type":"nominal"},"y":{"field":"lo","type":"quantitative"},"y2":{"field":"q1"},"color":{"field":"status","type":"nominal","legend":null}}},
{"data":{"name":"boxes"},"transform":[{"filter":"datum.panel==='BL'"}],"mark":{"type":"rule","strokeWidth":1},"encoding":{"x":{"field":"group","type":"nominal","sort":["NW","OW","OB"]},"xOffset":{"field":"status","type":"nominal"},"y":{"field":"q3","type":"quantitative"},"y2":{"field":"hi"},"color":{"field":"status","type":"nominal","legend":null}}},
{"data":{"name":"boxes"},"transform":[{"filter":"datum.panel==='BL'"},{"fold":["lo","hi"],"as":["k","v"]}],"mark":{"type":"tick","size":8,"thickness":1},"encoding":{"x":{"field":"group","type":"nominal","sort":["NW","OW","OB"]},"xOffset":{"field":"status","type":"nominal"},"y":{"field":"v","type":"quantitative"},"color":{"field":"status","type":"nominal","legend":null}}},
{"data":{"name":"points"},"transform":[{"filter":"datum.panel==='BL'"}],"mark":{"type":"circle","size":18,"opacity":1,"stroke":"#ffffff","strokeWidth":0.6,"strokeOpacity":0.55},"encoding":{"x":{"field":"group","type":"nominal","sort":["NW","OW","OB"]},"xOffset":{"field":"status","type":"nominal"},"y":{"field":"value","type":"quantitative"},"color":{"field":"status","type":"nominal","legend":null}}},
{"data":{"name":"boxes"},"transform":[{"filter":"datum.panel==='BL'"}],"mark":{"type":"tick","size":23,"thickness":1},"encoding":{"x":{"field":"group","type":"nominal","sort":["NW","OW","OB"]},"xOffset":{"field":"status","type":"nominal"},"y":{"field":"med","type":"quantitative"},"fill":{"field":"status","type":"nominal","scale":{"domain":["with HDP","without HDP"],"range":["#2f6eaa","#b85a1c"]},"legend":null}}},
{"data":{"name":"boxes"},"transform":[{"filter":"datum.panel==='BL'"}],"mark":{"type":"point","shape":"M-1,-1L1,1M-1,1L1,-1","size":36,"filled":false,"strokeWidth":1,"opacity":1},"encoding":{"x":{"field":"group","type":"nominal","sort":["NW","OW","OB"]},"xOffset":{"field":"status","type":"nominal"},"y":{"field":"mean","type":"quantitative"},"stroke":{"field":"status","type":"nominal","scale":{"domain":["with HDP","without HDP"],"range":["#2f6eaa","#b85a1c"]},"legend":null}}},
{"data":{"name":"boxes"},"transform":[{"filter":"datum.panel==='BL'"}],"mark":{"type":"line","strokeWidth":1},"encoding":{"x":{"field":"group","type":"nominal","sort":["NW","OW","OB"]},"xOffset":{"field":"status","type":"nominal"},"y":{"field":"mean","type":"quantitative"},"color":{"field":"status","type":"nominal","legend":null}}},
{"data":{"name":"brackets"},"transform":[{"filter":"datum.panel==='BL'"}],"mark":{"type":"line","color":"#6e6e6e","strokeWidth":1},"encoding":{"x":{"field":"group","type":"nominal","sort":["NW","OW","OB"]},"xOffset":{"field":"status","type":"nominal"},"y":{"field":"value","type":"quantitative"},"detail":{"field":"id"},"order":{"field":"step","type":"quantitative"}}}
]},
{"layer":[
{"data":{"name":"boxes"},"transform":[{"filter":"datum.panel==='BR'"}],"mark":{"type":"bar"},"encoding":{
"x":{"field":"group","type":"nominal","scale":{"domain":["Overall participants"],"range":[419.3,700],"paddingInner":0.51,"paddingOuter":0.255},"axis":{"orient":"bottom","offset":-24.7,"title":null,"labelAngle":0,"labelFontWeight":"bold","labelFontSize":12.5,"labelColor":"#222","labelPadding":4,"tickBand":"extent","tickSize":4,"tickColor":"#888","domainColor":"#888"}},
"xOffset":{"field":"status","type":"nominal","scale":{"domain":["with HDP","without HDP"],"paddingInner":0.08,"paddingOuter":0}},
"y":{"field":"q1","type":"quantitative","scale":{"domain":[0,35000],"range":[962.3,730],"nice":false},"axis":{"orient":"left","offset":-419.3,"title":null,"values":[0,5000,10000,15000,20000,25000,30000,35000],"format":"d","labelFontSize":12.5,"labelColor":"#222","tickSize":0,"labelPadding":5,"domainColor":"#888"}},
"y2":{"field":"q3"},
"color":{"field":"status","type":"nominal","scale":{"domain":["with HDP","without HDP"],"range":["#5b9bd5","#ed7d31"]},"legend":{"orient":"none","legendX":438.4,"legendY":735.2,"title":null,"symbolType":"M-5.2,-2.2H5.2V2.2H-5.2Z","symbolSize":16,"symbolStrokeWidth":0,"labelFontSize":8.5,"labelColor":"#444","labelOffset":14.3,"rowPadding":3.3,"padding":0}}}},
{"data":{"name":"boxes"},"transform":[{"filter":"datum.panel==='BR'"}],"mark":{"type":"rule","strokeWidth":1},"encoding":{"x":{"field":"group","type":"nominal"},"xOffset":{"field":"status","type":"nominal"},"y":{"field":"lo","type":"quantitative"},"y2":{"field":"q1"},"color":{"field":"status","type":"nominal","legend":null}}},
{"data":{"name":"boxes"},"transform":[{"filter":"datum.panel==='BR'"}],"mark":{"type":"rule","strokeWidth":1},"encoding":{"x":{"field":"group","type":"nominal"},"xOffset":{"field":"status","type":"nominal"},"y":{"field":"q3","type":"quantitative"},"y2":{"field":"hi"},"color":{"field":"status","type":"nominal","legend":null}}},
{"data":{"name":"boxes"},"transform":[{"filter":"datum.panel==='BR'"},{"fold":["lo","hi"],"as":["k","v"]}],"mark":{"type":"tick","size":22,"thickness":1},"encoding":{"x":{"field":"group","type":"nominal"},"xOffset":{"field":"status","type":"nominal"},"y":{"field":"v","type":"quantitative"},"color":{"field":"status","type":"nominal","legend":null}}},
{"data":{"name":"points"},"transform":[{"filter":"datum.panel==='BR'"}],"mark":{"type":"circle","size":18,"opacity":1,"stroke":"#ffffff","strokeWidth":0.6,"strokeOpacity":0.55},"encoding":{"x":{"field":"group","type":"nominal"},"xOffset":{"field":"status","type":"nominal"},"y":{"field":"value","type":"quantitative"},"color":{"field":"status","type":"nominal","legend":null}}},
{"data":{"name":"boxes"},"transform":[{"filter":"datum.panel==='BR'"}],"mark":{"type":"tick","size":65,"thickness":1},"encoding":{"x":{"field":"group","type":"nominal"},"xOffset":{"field":"status","type":"nominal"},"y":{"field":"med","type":"quantitative"},"fill":{"field":"status","type":"nominal","scale":{"domain":["with HDP","without HDP"],"range":["#2f6eaa","#b85a1c"]},"legend":null}}},
{"data":{"name":"boxes"},"transform":[{"filter":"datum.panel==='BR'"}],"mark":{"type":"point","shape":"M-1,-1L1,1M-1,1L1,-1","size":36,"filled":false,"strokeWidth":1,"opacity":1},"encoding":{"x":{"field":"group","type":"nominal"},"xOffset":{"field":"status","type":"nominal"},"y":{"field":"mean","type":"quantitative"},"stroke":{"field":"status","type":"nominal","scale":{"domain":["with HDP","without HDP"],"range":["#2f6eaa","#b85a1c"]},"legend":null}}},
{"data":{"name":"brackets"},"transform":[{"filter":"datum.panel==='BR'"}],"mark":{"type":"line","color":"#6e6e6e","strokeWidth":1},"encoding":{"x":{"field":"group","type":"nominal"},"xOffset":{"field":"status","type":"nominal"},"y":{"field":"value","type":"quantitative"},"detail":{"field":"id"},"order":{"field":"step","type":"quantitative"}}}
]}
]
}
